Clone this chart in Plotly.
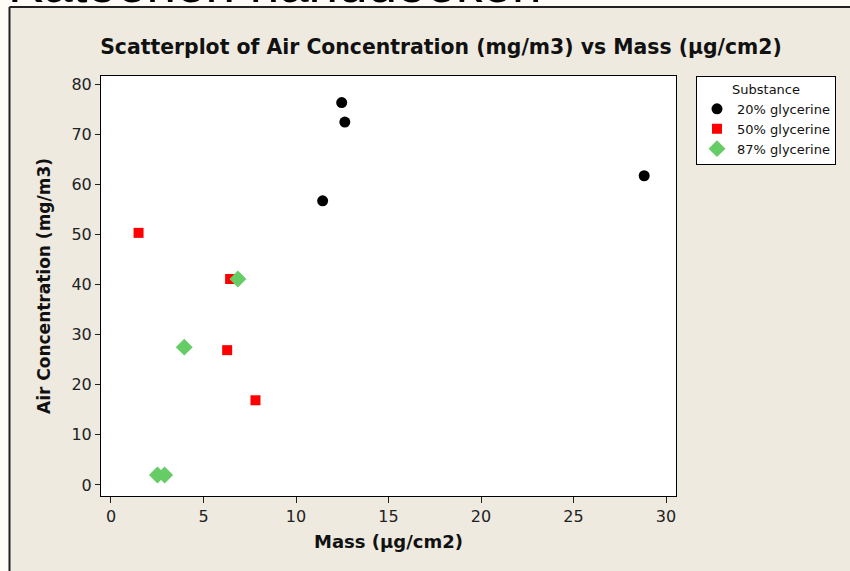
import plotly.graph_objects as go

# Data
g20_mass = [12.47, 12.64, 11.44, 28.82]
g20_air = [76.3, 72.4, 56.7, 61.7]
g50_mass = [1.49, 6.44, 6.28, 7.81]
g50_air = [50.3, 41.1, 26.9, 16.9]
g87_mass = [6.86, 3.96, 2.51, 2.90]
g87_air = [41.1, 27.5, 2.0, 2.0]

series_names = ["20% glycerine", "50% glycerine", "87% glycerine"]
x_ticks = [0, 5, 10, 15, 20, 25, 30]
y_ticks = [0, 10, 20, 30, 40, 50, 60, 70, 80]

FONT = "DejaVu Sans"
BG = "#EEEAE0"

fig = go.Figure()
fig.add_trace(go.Scatter(x=g20_mass, y=g20_air, mode="markers", name=series_names[0],
                         marker=dict(symbol="circle", size=11, color="black")))
fig.add_trace(go.Scatter(x=g50_mass, y=g50_air, mode="markers", name=series_names[1],
                         marker=dict(symbol="square", size=10, color="#FF0000")))
fig.add_trace(go.Scatter(x=g87_mass, y=g87_air, mode="markers", name=series_names[2],
                         marker=dict(symbol="diamond", size=13, color="#66CC66")))

W, H = 850, 571
L, R, T, B = 101, 174, 76, 75
PW, PH = W - L - R, H - T - B

fig.update_layout(
    width=W, height=H,
    margin=dict(l=L, r=R, t=T, b=B, pad=0),
    paper_bgcolor=BG, plot_bgcolor="white",
    font=dict(family=FONT, color="#222222"),
    title=dict(text="<b>Scatterplot of Air Concentration (mg/m3) vs Mass (µg/cm2)</b>",
               x=441 / W, xanchor="center", y=1 - 47 / H, yanchor="middle",
               font=dict(family=FONT, size=20.4, color="#111111")),
    xaxis=dict(range=[-0.54, 30.54], tickvals=x_ticks, ticks="outside", ticklen=6,
               tickcolor="#222222", showline=True, linecolor="black", linewidth=1, mirror=True,
               showgrid=False, zeroline=False, tickfont=dict(size=16, family=FONT, color="#222222"),
               title=dict(text="<b>Mass (µg/cm2)</b>", font=dict(size=18, family=FONT, color="#111111"),
                          standoff=10)),
    yaxis=dict(range=[-2.2, 81.6], tickvals=y_ticks, ticks="outside", ticklen=5,
               tickcolor="#222222", showline=True, linecolor="black", linewidth=1, mirror=True,
               showgrid=False, zeroline=False, tickfont=dict(size=16, family=FONT, color="#222222"),
               title=dict(text="<b>Air Concentration (mg/m3)</b>", font=dict(size=17, family=FONT, color="#111111"),
                          standoff=16)),
    legend=dict(x=(696 - L) / PW, y=1.0, xanchor="left", yanchor="top",
                bgcolor="white", bordercolor="black", borderwidth=1,
                font=dict(size=13, family=FONT, color="#111111"),
                title=dict(text="Substance", side="top center", font=dict(size=13, family=FONT, color="#111111")),
                itemwidth=30, tracegroupgap=0),
    showlegend=True,
)

# White band around the outer frame (top and left) with the frame line
fig.add_shape(type="rect", xref="paper", yref="paper", x0=-L / PW - 0.05, x1=(W - L) / PW + 0.05,
              y0=1 + (T - 6.5) / PH, y1=1 + T / PH + 0.05,
              fillcolor="#FFFCF8", line_width=0, layer="below")
fig.add_shape(type="rect", xref="paper", yref="paper", x0=-L / PW - 0.05, x1=(-L + 8.5) / PW,
              y0=-B / PH - 0.05, y1=1 + T / PH + 0.05,
              fillcolor="#FFFCF8", line_width=0, layer="below")
fig.add_shape(type="line", xref="paper", yref="paper", x0=(-L + 9.5) / PW, x1=(W - L) / PW + 0.05,
              y0=1 + (T - 7) / PH, y1=1 + (T - 7) / PH,
              line=dict(color="#222222", width=2))
fig.add_shape(type="line", xref="paper", yref="paper", x0=(-L + 9.5) / PW, x1=(-L + 9.5) / PW,
              y0=1 + (T - 7) / PH, y1=-B / PH - 0.05,
              line=dict(color="#222222", width=2))

# Large heading, cut off at the top edge as in the reference
fig.add_annotation(text="Katoenen handdoeken", xref="paper", yref="paper",
                   x=(6 - L) / PW, y=1 + (T - 15) / PH, xanchor="left", yanchor="bottom",
                   showarrow=False, font=dict(family="Liberation Sans", size=53, color="black"))

fig.write_html("out.html")
